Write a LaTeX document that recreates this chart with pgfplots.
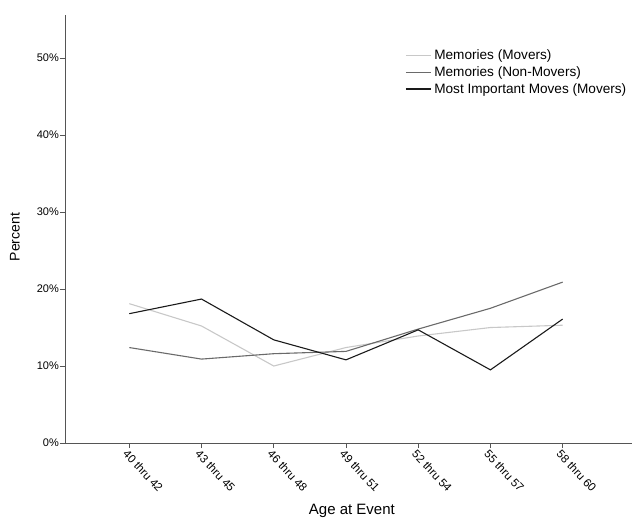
\documentclass[border=0pt]{standalone}
\usepackage{pgfplots}
\pgfplotsset{compat=1.18}
\usepackage{fontspec}
\setmainfont{Liberation Sans}
\definecolor{cLight}{HTML}{C8C8C8}
\definecolor{cMid}{HTML}{6A6A6A}
\definecolor{cDark}{HTML}{1A1A1A}
\definecolor{cAxis}{HTML}{555555}
\begin{document}
\begin{tikzpicture}[x=1pt,y=1pt]
\useasboundingbox (-65,-76) rectangle (569,443);
\begin{axis}[
  at={(0,0)}, anchor=south west,
  scale only axis, width=567pt, height=428pt,
  xmin=-0.89, xmax=6.96, ymin=0, ymax=55.6,
  axis lines=left, axis line style={cAxis, -, line width=0.8pt},
  xtick={0,1,2,3,4,5,6},
  xticklabels={40 thru 42,43 thru 45,46 thru 48,49 thru 51,52 thru 54,55 thru 57,58 thru 60},
  ytick={0,10,20,30,40,50},
  yticklabels={0\%,10\%,20\%,30\%,40\%,50\%},
  tick style={cAxis, line width=0.8pt},
  tick align=outside, major tick length=5pt,
  xticklabel style={rotate=-47, anchor=north west, font=\fontsize{11.5}{12}\selectfont, inner sep=1pt, xshift=-1pt},
  yticklabel style={font=\fontsize{11}{12}\selectfont, inner sep=1pt},
  xlabel={Age at Event}, ylabel={Percent},
  xlabel style={font=\fontsize{15}{16}\selectfont, at={(rel axis cs:0.506,0)}, anchor=center, yshift=-68pt},
  ylabel style={font=\fontsize{14}{16}\selectfont, at={(rel axis cs:-0.0882,0.481)}, anchor=center},
  legend style={draw=none, fill=none, at={(rel axis cs:0.5997,0.922)}, anchor=north west,
    font=\fontsize{13.6}{15}\selectfont, row sep=3.5pt, inner sep=0pt,
    legend cell align=left, nodes={inner sep=1pt, inner xsep=3pt}},
  legend image code/.code={\draw[#1] (0pt,0pt) -- (25pt,0pt);},
  every axis plot/.append style={line width=1.1pt},
]
\addplot[cLight] coordinates {(0,18.1) (1,15.2) (2,10.0) (3,12.4) (4,13.9) (5,15.0) (6,15.3)};
\addlegendentry{Memories (Movers)}
\addplot[cMid] coordinates {(0,12.4) (1,10.9) (2,11.6) (3,11.9) (4,14.8) (5,17.5) (6,20.9)};
\addlegendentry{Memories (Non-Movers)}
\addplot[cDark] coordinates {(0,16.8) (1,18.7) (2,13.4) (3,10.8) (4,14.7) (5,9.5) (6,16.1)};
\addlegendentry{Most Important Moves (Movers)}
\end{axis}
\end{tikzpicture}
\end{document}
